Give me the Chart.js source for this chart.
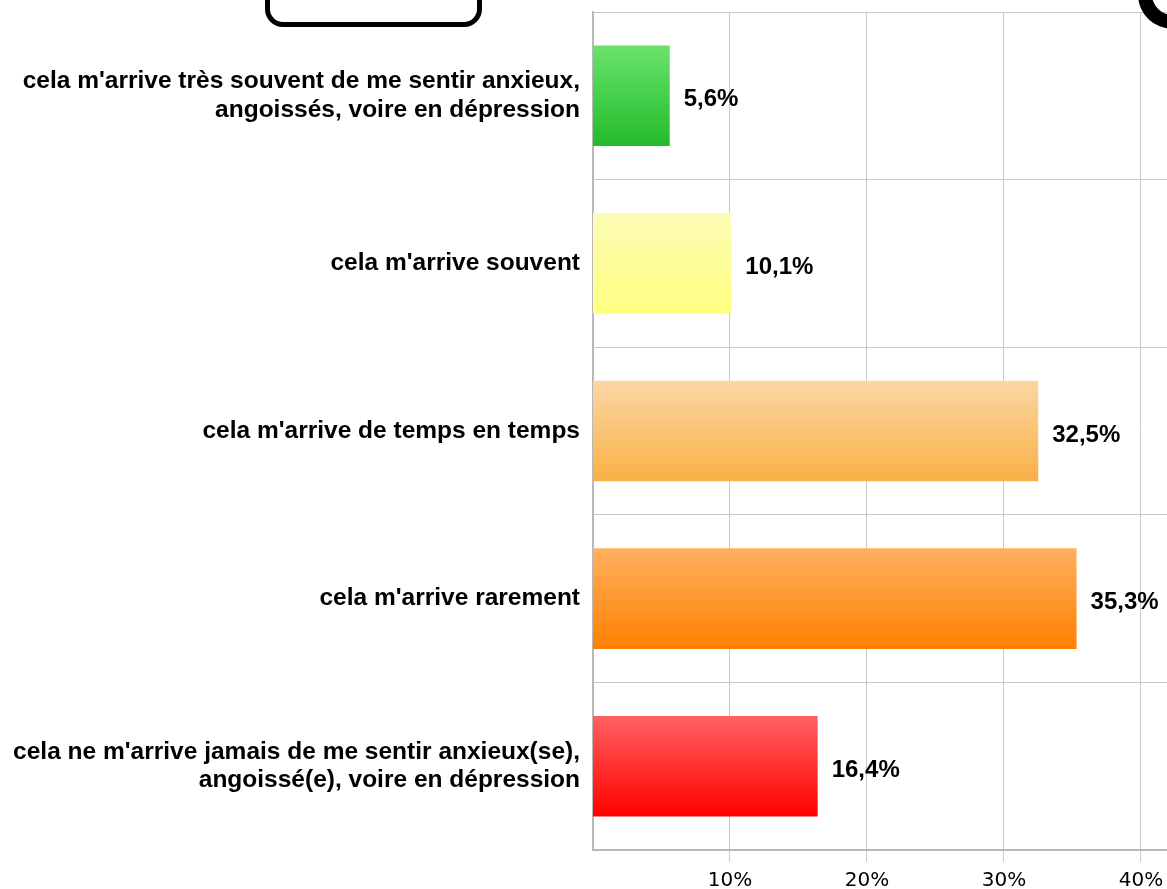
<!DOCTYPE html>
<html lang="fr">
<head>
  <meta charset="UTF-8">
  <title>Anxiété</title>
  <script src="https://cdn.jsdelivr.net/npm/chart.js"></script>
  <style>
    body { margin: 0; background: #fff; overflow: hidden; }
    #wrap { position: relative; width: 1167px; height: 889px; }
    .deco-box { position: absolute; left: 265px; top: -40px; width: 207px; height: 57px;
      border: 5px solid #000; border-radius: 18px; }
    .deco-ring { position: absolute; left: 1138px; top: -40px; width: 42px; height: 41px;
      border: 14px solid #000; border-radius: 50%; }
  </style>
</head>
<body>
  <div id="wrap">
    <canvas id="chart"></canvas>
    <div class="deco-box"></div>
    <div class="deco-ring"></div>
  </div>

  <script>
    const categories = [
      ["cela m'arrive très souvent de me sentir anxieux,", "angoissés, voire en dépression"],
      "cela m'arrive souvent",
      "cela m'arrive de temps en temps",
      "cela m'arrive rarement",
      ["cela ne m'arrive jamais de me sentir anxieux(se),", "angoissé(e), voire en dépression"]
    ];
    const percentages = [5.6, 10.1, 32.5, 35.3, 16.4];
    const tickValues = [10, 20, 30, 40];

    // bar gradient colours, top -> bottom
    const gradTop = ['#6ae36e', '#fcfcb6', '#fbd7a3', '#ffb060', '#ff6262'];
    const gradBottom = ['#22bb2a', '#ffff80', '#f9b047', '#ff8000', '#ff0000'];

    const barPct = 0.6;
    const labelFont = { family: "'Liberation Sans', Arial, sans-serif", size: 24.5, weight: 'bold' };

    function barFill(ctx) {
      const chart = ctx.chart;
      const i = ctx.dataIndex;
      if (!chart.chartArea || !chart.scales.y) return gradBottom[i];
      const y = chart.scales.y;
      const c = y.getPixelForValue(i);
      const h = (y.bottom - y.top) / categories.length * barPct;
      const g = chart.ctx.createLinearGradient(0, c - h / 2, 0, c + h / 2);
      g.addColorStop(0, gradTop[i]);
      g.addColorStop(1, gradBottom[i]);
      return g;
    }

    const valueLabels = {
      id: 'valueLabels',
      afterDatasetsDraw(chart) {
        const ctx = chart.ctx;
        const meta = chart.getDatasetMeta(0);
        ctx.save();
        ctx.font = `bold 24px ${labelFont.family}`;
        ctx.fillStyle = '#000';
        ctx.textAlign = 'left';
        ctx.textBaseline = 'middle';
        meta.data.forEach((bar, i) => {
          const txt = percentages[i].toFixed(1).replace('.', ',') + '%';
          ctx.fillText(txt, bar.x + 14, bar.y + 4);
        });
        ctx.restore();
      }
    };

    new Chart(document.getElementById('chart'), {
      type: 'bar',
      data: {
        labels: categories,
        datasets: [{
          data: percentages,
          backgroundColor: barFill,
          borderWidth: 0,
          barPercentage: barPct,
          categoryPercentage: 1
        }]
      },
      options: {
        indexAxis: 'y',
        responsive: true,
        maintainAspectRatio: false,
        animation: false,
        layout: { padding: { top: 12, left: 0, right: 0, bottom: 0 } },
        plugins: {
          legend: { display: false },
          tooltip: { enabled: false }
        },
        scales: {
          x: {
            min: 0,
            max: 41.9,
            afterBuildTicks: s => { s.ticks = tickValues.map(v => ({ value: v })); },
            afterFit: s => { s.height = 39; s.paddingLeft = 0; s.paddingRight = 0; },
            ticks: {
              callback: v => v + '%',
              color: '#000',
              font: { family: "'DejaVu Sans', Verdana, sans-serif", size: 20 },
              padding: 7,
              maxRotation: 0
            },
            grid: { color: '#c8c8c8', lineWidth: 1, tickLength: 12 },
            border: { color: '#b8b8b8', width: 2 }
          },
          y: {
            afterFit: s => { s.width = 593; s.paddingTop = 0; s.paddingBottom = 0; },
            ticks: {
              color: '#000',
              font: { ...labelFont, lineHeight: 1.15 },
              padding: 13
            },
            grid: { color: '#c8c8c8', lineWidth: 1, drawTicks: false, offset: true },
            border: { color: '#b8b8b8', width: 2 }
          }
        }
      },
      plugins: [valueLabels]
    });
  </script>
</body>
</html>
